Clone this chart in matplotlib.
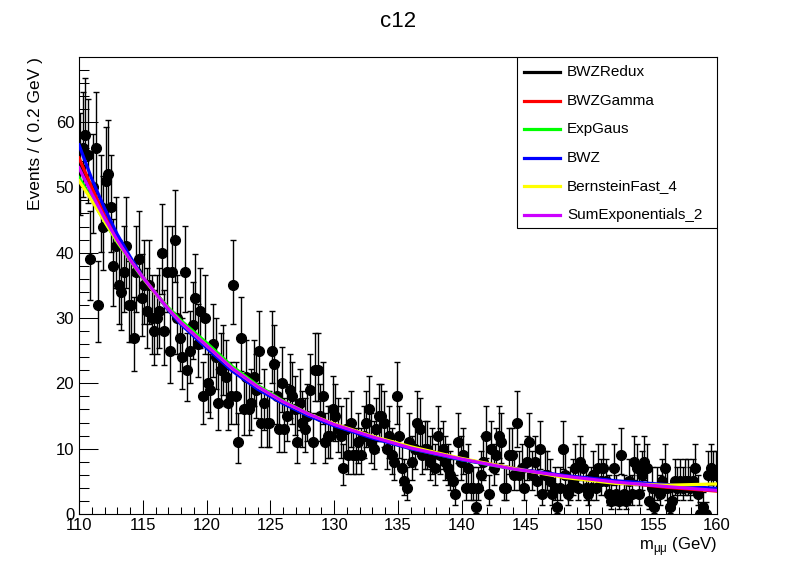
import numpy as np
import matplotlib
matplotlib.use("Agg")
import matplotlib.pyplot as plt
from matplotlib.ticker import MultipleLocator

plt.rcParams['font.family'] = ['Liberation Sans', 'DejaVu Sans']

# binned data, 0.2 GeV bins from 110 to 160
bin_lo = 110.0
bin_w = 0.2
counts = [
    53, 56, 58, 55, 39, 50, 56, 32, 47, 44,
    51, 52, 47, 38, 41, 35, 34, 37, 41, 32,
    32, 27, 37, 39, 33, 35, 31, 35, 30, 28,
    30, 31, 40, 28, 37, 25, 37, 42, 30, 27,
    24, 37, 22, 25, 29, 33, 26, 31, 18, 30,
    20, 19, 26, 24, 17, 22, 23, 21, 17, 18,
    35, 18, 11, 27, 16, 21, 16, 17, 21, 19,
    25, 14, 17, 14, 14, 25, 23, 18, 13, 20,
    13, 15, 19, 18, 16, 11, 17, 14, 13, 15,
    19, 11, 22, 22, 15, 18, 11, 12, 12, 16,
    15, 13, 12, 7, 13, 9, 14, 9, 9, 11,
    9, 12, 14, 16, 11, 10, 13, 15, 15, 14,
    10, 12, 9, 8, 18, 12, 7, 5, 4, 11,
    8, 10, 14, 13, 9, 10, 10, 8, 9, 7,
    12, 9, 10, 8, 7, 6, 5, 3, 11, 8,
    9, 4, 7, 4, 4, 1, 4, 6, 8, 12,
    3, 10, 7, 9, 12, 11, 4, 4, 9, 9,
    6, 14, 6, 7, 4, 8, 11, 6, 8, 5,
    10, 3, 6, 6, 5, 3, 4, 1, 4, 10,
    6, 3, 4, 5, 7, 4, 8, 7, 4, 3,
    4, 6, 4, 7, 5, 7, 5, 3, 2, 7,
    3, 2, 9, 3, 2, 5, 3, 8, 7, 3,
    6, 8, 7, 2, 4, 1, 4, 3, 5, 7,
    4, 1, 2, 5, 4, 5, 4, 5, 5, 4,
    5, 7, 3, 0, 1, 0, 6, 7, 6, 6,
]

# fitted curves
curve_x = [110, 111, 112, 113, 114, 115, 116, 117, 118, 120, 122, 124,
           126, 128, 130, 133, 136, 140, 144, 148, 152, 156, 160]
bwz_redux = [54.0, 49.5, 45.5, 42.0, 39.0, 36.2, 33.8, 31.4, 29.3, 25.8, 22.2, 19.4,
             17.1, 15.2, 13.6, 11.7, 10.1, 8.4, 7.0, 5.8, 5.0, 4.3, 3.8]
bwz_gamma = [54.5, 50.0, 45.8, 42.2, 39.1, 36.3, 33.8, 31.4, 29.3, 25.8, 22.2, 19.4,
             17.1, 15.2, 13.6, 11.7, 10.1, 8.4, 7.0, 5.8, 4.9, 4.1, 3.5]
exp_gaus = [51.5, 48.2, 44.8, 41.6, 38.8, 36.1, 33.8, 31.6, 29.6, 26.2, 22.6, 19.7,
            17.3, 15.3, 13.6, 11.7, 10.0, 8.3, 6.9, 5.8, 5.0, 4.3, 3.8]
bwz = [56.5, 51.3, 46.8, 42.8, 39.4, 36.3, 33.7, 31.2, 29.0, 25.4, 21.9, 19.1,
       16.9, 15.0, 13.5, 11.6, 10.0, 8.3, 7.0, 5.9, 5.1, 4.5, 3.9]
bernstein4 = [51.0, 48.0, 44.8, 41.7, 38.9, 36.2, 33.7, 31.4, 29.3, 25.8, 22.3, 19.5,
              17.2, 15.3, 13.8, 11.9, 10.3, 8.5, 7.0, 5.6, 4.7, 4.4, 4.6]
sum_exp2 = [53.0, 49.0, 45.3, 41.9, 38.9, 36.2, 33.8, 31.4, 29.3, 25.8, 22.3, 19.5,
            17.2, 15.3, 13.7, 11.8, 10.1, 8.4, 6.9, 5.8, 4.9, 4.2, 3.6]

curve_names = ["BWZRedux", "BWZGamma", "ExpGaus", "BWZ", "BernsteinFast_4", "SumExponentials_2"]
curve_vals = [bwz_redux, bwz_gamma, exp_gaus, bwz, bernstein4, sum_exp2]
curve_cols = ["#000000", "#ff0000", "#00ff00", "#0000ff", "#ffff00", "#cc00ff"]

# bin centres and poisson (Gehrels) errors
n = np.array(counts, dtype=float)
xc = bin_lo + bin_w * (np.arange(len(n)) + 0.5)
hi = np.sqrt(n + 0.75) + 1.0
lo = np.zeros_like(n)
pos = n > 0
lo[pos] = n[pos] - n[pos] * (1 - 1 / (9 * n[pos]) - 1 / (3 * np.sqrt(n[pos]))) ** 3

fig = plt.figure(figsize=(7.96, 5.72), dpi=100)
ax = fig.add_axes([79 / 796, 58 / 572, 638 / 796, 457 / 572])

ax.errorbar(xc, n, yerr=[lo, hi], fmt='o', color='black', ms=7, lw=1,
            capsize=2.5, capthick=1, zorder=2)

for name, vals, col in zip(curve_names, curve_vals, curve_cols):
    ax.plot(curve_x, vals, color=col, lw=2.3, zorder=3, solid_joinstyle='round')

ax.set_xlim(110, 160)
ax.set_ylim(0, 69.95)

ax.xaxis.set_major_locator(MultipleLocator(5))
ax.xaxis.set_minor_locator(MultipleLocator(1))
ax.yaxis.set_major_locator(MultipleLocator(10))
ax.yaxis.set_minor_locator(MultipleLocator(2))
ax.tick_params(axis='x', which='major', direction='in', length=9.9, width=0.75, labelsize=12, pad=3)
ax.tick_params(axis='x', which='minor', direction='in', length=4.9, width=0.75)
ax.tick_params(axis='y', which='major', direction='in', length=13.8, width=0.75, labelsize=12, pad=3.5)
ax.tick_params(axis='y', which='minor', direction='in', length=6.9, width=0.75)
for sp in ax.spines.values():
    sp.set_linewidth(0.8)

ax.set_ylabel("Events / ( 0.2 GeV )", fontsize=12.5, loc='top')
ax.yaxis.set_label_coords(-0.0564, 1.0)
ax.set_xlabel("m$_{\\mathregular{μμ}}$ (GeV)", fontsize=12, loc='right')
ax.xaxis.set_label_coords(1.0, -0.046)

fig.text(0.5, 1 - 21.5 / 572, "c12", ha='center', va='center', fontsize=16)

# legend box in the upper right corner
box_left = (517 - 79) / 638
box_bottom = (514 - 228) / 457
ax.add_patch(plt.Rectangle((box_left, box_bottom), 1 - box_left, 1 - box_bottom,
                           transform=ax.transAxes, facecolor='white', edgecolor='black',
                           lw=0.8, zorder=5))
row_y = 0.9665
for name, col in zip(curve_names, curve_cols):
    ax.plot([0.6975, 0.7539], [row_y, row_y], color=col, lw=2.3,
            transform=ax.transAxes, zorder=6, clip_on=False)
    ax.text(0.765, row_y, name, transform=ax.transAxes, fontsize=11,
            va='center', ha='left', zorder=6)
    row_y -= 0.0624

fig.savefig("out.png", dpi=100)
